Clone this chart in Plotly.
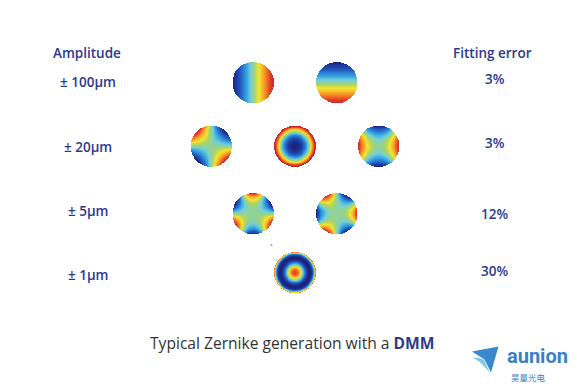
import math
import numpy as np
import plotly.graph_objects as go

# ---------------- data ----------------
amplitude_labels = ["± 100µm", "± 20µm", "± 5µm", "± 1µm"]
fitting_errors = ["3%", "3%", "12%", "30%"]
# Zernike modes shown in each row (radial order n, azimuthal m, sign of the map)
zernike_n = [[1, 1], [2, 2, 2], [3, 3], [4]]
zernike_m = [[1, -1], [-2, 0, 2], [-3, 3], [0]]
zernike_sign = [[1, -1], [-1, 1, 1], [-1, 1], [1]]
header_left = "Amplitude"
header_right = "Fitting error"
caption_text = "Typical Zernike generation with a "
caption_bold = "DMM"
logo_text = "aunion"
logo_sub = "昊量光电"

# ---------------- layout constants ----------------
W, H = 581, 390
OFF = 8  # page body margin of the html page
row_y = [82.5, 146.0, 213.5, 272.5]
amp_y = [82, 146.5, 211, 275]
err_y = [79, 143, 214, 271]
center_x = 294.8
spacing = 83.7
radius = 20.6
N = 90

BLUE = "#2b3a8e"
colorscale = [
    [0.00, "#1b2276"], [0.10, "#1d3aa2"], [0.22, "#2466c6"],
    [0.34, "#34a3e0"], [0.45, "#74cfd8"], [0.54, "#a9d467"],
    [0.64, "#f3e532"], [0.76, "#f6a324"], [0.88, "#ec4f26"],
    [1.00, "#c8202a"],
]


def radial(n, m, r):
    m = abs(m)
    out = np.zeros_like(r)
    for k in range((n - m) // 2 + 1):
        c = ((-1) ** k * math.factorial(n - k) /
             (math.factorial(k) * math.factorial((n + m) // 2 - k) *
              math.factorial((n - m) // 2 - k)))
        out += c * r ** (n - 2 * k)
    return out


def zernike(n, m, u, v):
    r = np.sqrt(u ** 2 + v ** 2)
    th = np.arctan2(v, u)
    R = radial(n, m, r)
    if m > 0:
        z = R * np.cos(m * th)
    elif m < 0:
        z = R * np.sin(-m * th)
    else:
        z = R
    return np.where(r <= 1.0, z, np.nan)


fig = go.Figure()
t = np.linspace(-1, 1, N)
U, T = np.meshgrid(t, t)
V = -T

for ri, (ns, ms, ss) in enumerate(zip(zernike_n, zernike_m, zernike_sign)):
    k = len(ns)
    for ci, (n, m, s) in enumerate(zip(ns, ms, ss)):
        cx = center_x + (ci - (k - 1) / 2) * spacing
        cy = row_y[ri]
        z = s * zernike(n, m, U, V)
        zmin, zmax = -1.0, 1.0
        if n == 2 and m == 0:
            zmin, zmax = -1.0, 0.85
        if n == 4 and m == 0:
            zmin, zmax = -0.5, 1.15
        fig.add_trace(go.Heatmap(
            x=cx + radius * t, y=cy + radius * t, z=z,
            colorscale=colorscale, zmin=zmin, zmax=zmax,
            showscale=False, hoverinfo="skip", zsmooth=False,
        ))

ann = []
font_b = dict(family="Open Sans", size=13.5, color=BLUE, weight=600)
ann.append(dict(x=86.5, y=53, text=header_left, font=font_b))
ann.append(dict(x=492.5, y=53, text=header_right, font=font_b))
for lab, y in zip(amplitude_labels, amp_y):
    ann.append(dict(x=87.5, y=y, text=lab, font=font_b))
for lab, y in zip(fitting_errors, err_y):
    ann.append(dict(x=494.5, y=y, text=lab, font=font_b))
ann.append(dict(
    x=291.5, y=342.5,
    text=caption_text + f"<span style='color:{BLUE}'><b>{caption_bold}</b></span>",
    font=dict(family="Open Sans", size=15.6, color="#333333")))
for a in ann:
    a.update(yanchor="middle")
ann.append(dict(x=537, y=369, text=f"<b>{logo_text}</b>", yanchor="bottom", borderpad=0,
                font=dict(family="Roboto", size=20, color="#3b7fc6")))
ann.append(dict(x=528, y=369.5, text=logo_sub, yanchor="top", borderpad=0,
                font=dict(family="Noto Sans CJK SC", size=8.5, color="#3b7fc6")))
for a in ann:
    a.update(xref="x", yref="y", showarrow=False, xanchor="center")

shapes = [
    dict(type="path", xref="x", yref="y",
         path="M 472,351.5 L 498.5,346.5 L 491,372.5 L 484.5,359.5 Z",
         fillcolor="#3a88cc", line=dict(width=0)),
    dict(type="path", xref="x", yref="y",
         path="M 472.5,357.5 Q 482,357.5 484.5,360.5 L 490,373.5 Q 483,363 472.5,357.5 Z",
         fillcolor="#7cc8ef", line=dict(width=0)),
    dict(type="rect", xref="x", yref="y", x0=270.5, x1=272.3, y0=244.4, y1=245.6,
         fillcolor="#6677bb", line=dict(width=0)),
]

fig.update_layout(
    width=W, height=H, margin=dict(l=0, r=0, t=0, b=0),
    paper_bgcolor="white", plot_bgcolor="white",
    xaxis=dict(range=[OFF, W + OFF], visible=False, fixedrange=True),
    yaxis=dict(range=[H + OFF, OFF], visible=False, fixedrange=True),
    annotations=ann, shapes=shapes, showlegend=False,
)
fig.write_html("out.html")
